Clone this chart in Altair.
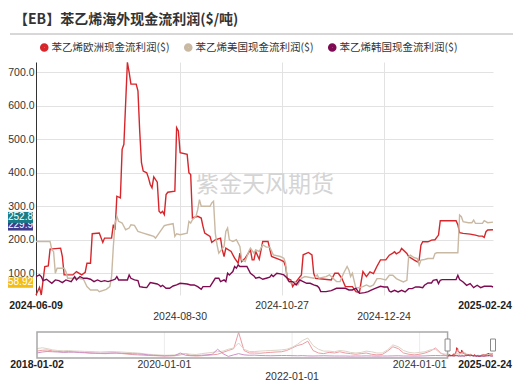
import altair as alt
import pandas as pd

# ---------------- data ----------------
START = pd.Timestamp("2024-06-09")
SERIES = ["苯乙烯欧洲现金流利润($)", "苯乙烯美国现金流利润($)", "苯乙烯韩国现金流利润($)"]
COLORS = ["#d7262b", "#c9b9a3", "#7e0b52"]
HIST_COLORS = ["#ee9ba3", "#ddd3c6", "#cc93c6"]

# days since 2024-06-09 / values
eu_day = [0, 2, 3, 5, 7, 8, 14, 15, 16, 21, 23, 26, 28, 29, 31, 32, 36, 38, 39, 43, 44, 45, 46, 48, 49, 50, 52, 53, 54, 57,
          58, 59, 60, 61, 63, 64, 65, 66, 67, 69, 70, 71, 72, 73, 74, 75, 79, 80, 81, 82, 86, 87, 88, 89, 92, 94, 95, 96, 99, 100,
          102, 105, 106, 107, 108, 111, 113, 115, 116, 117, 119, 122, 123, 124, 125, 127, 129, 132, 134, 139, 141, 142, 143, 145,
          146, 148, 151, 152, 155, 157, 158, 159, 168, 170, 172, 174, 176, 180, 182, 184, 185, 186, 188, 190, 192, 194, 196, 199,
          201, 203, 204, 205, 207, 208, 211, 212, 215, 217, 218, 219, 220, 223, 225, 227, 228, 229, 230, 239, 240, 241, 243, 247,
          250, 252, 254, 255, 256, 257, 260]
eu_val = [35, 58, 35, 120, 122, 172, 175, 150, 95, 95, 105, 95, 103, 130, 130, 218, 220, 192, 205, 205, 245, 230, 330, 325, 470, 485, 730, 700, 665, 665,
          645, 525, 430, 405, 400, 385, 365, 355, 388, 372, 285, 280, 285, 275, 335, 342, 345, 535, 525, 460, 455, 400, 395, 265, 270, 265, 240, 220, 210, 192,
          200, 205, 170, 150, 175, 165, 145, 130, 160, 135, 145, 170, 140, 140, 165, 142, 195, 195, 150, 140, 135, 120, 85, 80,
          60, 75, 95, 155, 162, 155, 100, 85, 80, 100, 100, 85, 60, 60, 45, 42, 75, 105, 90, 104, 99, 121, 140, 140,
          154, 160, 164, 158, 164, 174, 159, 150, 140, 134, 140, 184, 194, 194, 199, 200, 207, 214, 257, 257, 245, 221, 219, 217,
          214, 211, 211, 207, 224, 229, 229.9]

us_day = [0, 8, 9, 10, 11, 12, 16, 17, 18, 24, 27, 29, 31, 35, 36, 40, 42, 43, 44, 45, 46, 47, 49, 51, 53, 54, 56, 58, 61, 64,
          67, 68, 70, 73, 75, 78, 79, 80, 82, 86, 87, 88, 89, 91, 92, 93, 94, 99, 100, 101, 102, 103, 104, 107, 108, 109, 110, 112,
          114, 116, 117, 119, 121, 122, 124, 125, 127, 129, 131, 133, 135, 139, 141, 142, 143, 145, 147, 149, 151, 153, 158, 160,
          161, 165, 167, 169, 171, 173, 175, 177, 178, 179, 180, 182, 186, 188, 190, 192, 194, 196, 199, 201, 203, 205, 207, 209,
          211, 212, 213, 215, 217, 218, 219, 221, 223, 226, 227, 228, 240, 241, 242, 243, 246, 248, 249, 250, 254, 255, 257, 260]
us_val = [195, 195, 170, 165, 100, 115, 115, 105, 85, 85, 82, 60, 50, 50, 45, 52, 60, 90, 180, 250, 270, 255, 250, 230, 235, 245, 243, 225, 220, 215,
          210, 205, 220, 242, 245, 248, 210, 218, 215, 220, 255, 250, 260, 270, 290, 320, 300, 300, 310, 315, 220, 185, 160, 180, 225, 235, 200, 195,
          200, 180, 140, 135, 165, 175, 160, 170, 165, 185, 178, 178, 155, 150, 145, 130, 80, 70, 75, 65, 85, 90, 85, 95,
          85, 90, 95, 85, 75, 75, 100, 120, 110, 90, 100, 55, 60, 65, 60, 65, 84, 84, 80, 94, 94, 84, 79, 74,
          79, 149, 154, 147, 144, 124, 139, 141, 144, 144, 159, 161, 161, 274, 269, 254, 251, 251, 259, 249, 249, 257, 251, 252.8]

kr_day = [0, 2, 3, 4, 6, 9, 11, 13, 15, 17, 20, 22, 23, 25, 27, 29, 31, 33, 35, 37, 39, 41, 44, 45, 46, 47, 49, 52, 53, 54,
          56, 58, 59, 61, 63, 65, 67, 69, 70, 71, 72, 74, 76, 78, 80, 82, 86, 88, 90, 92, 94, 95, 99, 102, 104, 105, 107, 108, 109,
          110, 111, 112, 113, 114, 115, 116, 120, 122, 124, 125, 127, 129, 131, 133, 134, 135, 137, 139, 141, 143, 144, 146, 148,
          150, 152, 154, 156, 158, 160, 161, 162, 165, 168, 171, 173, 176, 178, 180, 182, 184, 187, 189, 191, 193, 196, 198, 200,
          201, 202, 204, 206, 208, 210, 212, 214, 216, 218, 220, 221, 223, 225, 226, 228, 229, 230, 231, 239, 240, 241, 243, 245,
          247, 249, 251, 253, 255, 257, 259, 260]
kr_val = [90, 95, 90, 78, 82, 70, 80, 78, 72, 80, 75, 90, 80, 90, 85, 85, 82, 75, 80, 75, 78, 75, 80, 82, 90, 80, 80, 80, 95, 85,
          80, 78, 60, 58, 57, 72, 70, 68, 65, 60, 64, 55, 55, 62, 65, 70, 68, 65, 65, 60, 52, 60, 60, 85, 85, 75, 80, 75, 100,
          95, 100, 105, 120, 115, 125, 120, 120, 100, 92, 85, 88, 82, 85, 88, 95, 90, 100, 98, 95, 85, 75, 75, 65,
          80, 75, 70, 70, 65, 62, 57, 45, 45, 48, 55, 55, 55, 50, 50, 55, 40, 42, 45, 50, 55, 61, 59, 59,
          47, 44, 49, 44, 49, 44, 54, 54, 59, 59, 57, 64, 71, 71, 79, 81, 69, 79, 81, 81, 94, 81, 74, 64,
          69, 57, 64, 57, 61, 61, 61, 58.92]

# monthly history 2018-01 .. 2024-05 (navigator)
eu_hist = [450, 520, 540, 470, 430, 400, 420, 400, 380, 350, 300, 280,
           260, 250, 280, 300, 260, 220, 180, 150, 130, 100, 90, 80,
           60, 70, 80, 150, 250, 100, 60, 80, 120, 150, 200, 350,
           500, 650, 1950, 500, 300, 300, 280, 320, 350, 380, 400, 500,
           700, 900, 1000, 1250, 500, 300, 250, 350, 300, 400, 300, 250,
           200, 250, 300, 200, 150, 180, 450, 800, 650, 300, 200, 150,
           200, 300, 450, 700, 300]
us_hist = [650, 720, 650, 550, 500, 480, 500, 460, 450, 430, 420, 400,
           380, 400, 420, 400, 380, 350, 330, 300, 250, 200, 180, 150,
           120, 130, 150, 200, 250, 200, 180, 250, 300, 350, 400, 450,
           600, 700, 1100, 600, 420, 420, 450, 480, 500, 520, 550, 600,
           750, 1000, 1300, 1500, 900, 600, 450, 450, 400, 500, 450, 350,
           300, 350, 450, 400, 300, 300, 550, 950, 800, 500, 350, 300,
           350, 400, 550, 600, 250]
kr_hist = [300, 380, 420, 400, 380, 350, 360, 370, 340, 320, 300, 290,
           280, 290, 300, 300, 280, 260, 240, 230, 200, 150, 110, 90,
           80, 90, 100, 300, 120, 80, 100, 120, 150, 200, 600, 250,
           30, 150, 250, 150, 120, 130, 100, 90, 80, 90, 100, 100,
           90, 80, 90, 70, 60, 70, 80, 70, 60, 60, 60, 50,
           60, 60, 70, 60, 50, 60, 60, 70, 80, 60, 60, 50,
           60, 70, 90, 100, 90]

TITLE = "【EB】苯乙烯海外现金流利润($/吨)"
WATERMARK = "紫金天风期货"
y_ticks = [100, 200, 300, 400, 500, 600, 700]
main_grid = ["2024-08-30", "2024-10-27", "2024-12-24"]
main_row1 = ["2024-10-27"]
main_row2 = ["2024-08-30", "2024-12-24"]
main_first, main_last = "2024-06-09", "2025-02-24"
nav_first, nav_last = "2018-01-02", "2025-02-24"
nav_row1 = ["2020-01-01", "2024-01-01"]
nav_row2 = ["2022-01-01"]
nav_grid = ["2020-01-01", "2022-01-01", "2024-01-01"]
flag_labels = ["229.9", "252.8", "58.92"]
flag_values = [229.9, 252.8, 58.92]
flag_colors = ["#3f3b8f", "#177c88", "#f4bd16"]

# ---------------- tables ----------------
def to_dates(days):
    return [(START + pd.Timedelta(days=d)).strftime("%Y-%m-%d") for d in days]

rows = []
for name, days, vals in zip(SERIES, [eu_day, us_day, kr_day], [eu_val, us_val, kr_val]):
    for d, v in zip(to_dates(days), vals):
        rows.append({"date": d, "value": v, "series": name, "key": name})
main_df = pd.DataFrame(rows)

months = pd.date_range("2018-01-01", "2024-05-01", freq="MS").strftime("%Y-%m-%d").tolist()
hrows = []
for name, vals, first in zip(SERIES, [eu_hist, us_hist, kr_hist], [eu_val[0], us_val[0], kr_val[0]]):
    for d, v in zip(months + ["2024-06-09"], vals + [first]):
        hrows.append({"date": d, "value": v, "key": "h_" + name})
hist_df = pd.DataFrame(hrows)

# ---------------- geometry ----------------
W, H = 457, 233
NUM_FONT = "Liberation Sans"
CJK_FONT = "Noto Sans CJK SC"


def dt(s):
    y, m, d = (int(p) for p in s.split("-"))
    return alt.DateTime(year=y, month=m, date=d, utc=True)


xs_main = alt.Scale(domain=[dt(main_first), dt(main_last)])
ys_main = alt.Scale(domain=[35, 731], nice=False, zero=False)
xs_nav = alt.Scale(domain=[dt(nav_first), dt(nav_last)], range=[1, W])
ys_nav = alt.Scale(domain=[-100, 1980], nice=False, zero=False, range=[296, 270])
stroke_scale = alt.Scale(domain=SERIES + ["h_" + s for s in SERIES], range=COLORS + HIST_COLORS)

layers = []

# watermark
layers.append(
    alt.Chart(pd.DataFrame({"t": [WATERMARK]})).mark_text(
        font=CJK_FONT, fontSize=23, color="#d4d4d4", align="center", baseline="middle"
    ).encode(x=alt.value(229), y=alt.value(123), text="t:N")
)

# main lines
layers.append(
    alt.Chart(main_df).mark_line(strokeWidth=1.4).encode(
        x=alt.X("date:T", scale=xs_main, title=None,
                axis=alt.Axis(values=[dt(s) for s in main_grid], labels=False, ticks=False,
                              domain=False, grid=True, gridColor="#e2e2e2")),
        y=alt.Y("value:Q", scale=ys_main, title=None,
                axis=alt.Axis(values=y_ticks, format=".1f", ticks=False, domain=True,
                              domainColor="#333333", labelFont=NUM_FONT, labelFontSize=10.5,
                              labelColor="#333333", labelPadding=2, grid=True, gridColor="#e2e2e2")),
        color=alt.Color("series:N", scale=alt.Scale(domain=SERIES, range=COLORS),
                        legend=alt.Legend(orient="none", legendX=3, legendY=-20, direction="horizontal",
                                          columns=3, title=None, symbolType="circle", symbolSize=16,
                                          symbolStrokeWidth=4.6, labelFont=CJK_FONT, labelFontSize=10.5,
                                          labelColor="#333333", labelOffset=2, columnPadding=7, padding=0)),
    )
)

# value flags on the y axis
for lab, v, c in zip(flag_labels, flag_values, flag_colors):
    fdf = pd.DataFrame({"label": [lab], "v": [v]})
    base = alt.Chart(fdf).transform_calculate(lo="datum.v - 2.4", hi="datum.v + 30.4", mid="datum.v + 14")
    layers.append(
        base.mark_rect(color=c).encode(
            y=alt.Y("lo:Q", scale=ys_main, axis=None), y2="hi:Q",
            x=alt.value(-28), x2=alt.value(-3))
    )
    layers.append(
        base.mark_text(color="white", font=NUM_FONT, fontSize=10, align="center", baseline="middle").encode(
            y=alt.Y("mid:Q", scale=ys_main, axis=None), x=alt.value(-15.5), text="label:N")
    )


def label_layer(dates, yrel, xscale, bold=False, dx=0):
    df = pd.DataFrame({"d": dates, "lab": list(dates)})
    return alt.Chart(df).mark_text(
        align="center", baseline="middle", dx=dx, font=NUM_FONT, fontSize=10.5,
        fontWeight="bold" if bold else "normal", color="#222222" if bold else "#333333"
    ).encode(x=alt.X("d:T", scale=xscale, axis=None), y=alt.value(yrel), text="lab:N")


layers += [
    label_layer([main_first], 244, xs_main, bold=True),
    label_layer([main_last], 244, xs_main, bold=True, dx=-8),
    label_layer(main_row1, 244, xs_main),
    label_layer(main_row2, 255, xs_main),
]

# navigator
layers.append(
    alt.Chart(pd.DataFrame({"d": nav_grid})).mark_rule(color="#ececec").encode(
        x=alt.X("d:T", scale=xs_nav, axis=None), y=alt.value(270), y2=alt.value(296))
)
layers.append(
    alt.Chart(hist_df).mark_line(strokeWidth=1).encode(
        x=alt.X("date:T", scale=xs_nav, axis=None),
        y=alt.Y("value:Q", scale=ys_nav, axis=None),
        stroke=alt.Stroke("key:N", scale=stroke_scale, legend=None))
)
layers.append(
    alt.Chart(main_df).mark_line(strokeWidth=1).encode(
        x=alt.X("date:T", scale=xs_nav, axis=None),
        y=alt.Y("value:Q", scale=ys_nav, axis=None),
        stroke=alt.Stroke("key:N", scale=stroke_scale, legend=None))
)
layers.append(
    alt.Chart(pd.DataFrame({"a": [nav_first], "b": [main_first]})).mark_rect(
        fill="white", fillOpacity=0, stroke="#a8a8a8", strokeWidth=1.5).encode(
        x=alt.X("a:T", scale=xs_nav, axis=None), x2="b:T", y=alt.value(270), y2=alt.value(296))
)
layers.append(
    alt.Chart(pd.DataFrame({"d": [main_first, main_last]})).mark_point(
        shape="M-1,-2.4L1,-2.4L1,2.4L-1,2.4Z", size=25, filled=True, fill="white",
        stroke="#8a8a8a", strokeWidth=1, opacity=1).encode(
        x=alt.X("d:T", scale=xs_nav, axis=None), y=alt.value(283))
)
layers += [
    label_layer([nav_first], 303, xs_nav, bold=True),
    label_layer([nav_last], 303, xs_nav, bold=True, dx=-8),
    label_layer(nav_row1, 303, xs_nav),
    label_layer(nav_row2, 315, xs_nav),
]

# title and separator
layers.append(
    alt.Chart(pd.DataFrame({"t": [TITLE]})).mark_text(
        font=CJK_FONT, fontSize=14, fontWeight="bold", color="#333333", align="left", baseline="middle"
    ).encode(x=alt.value(-22), y=alt.value(-42), text="t:N")
)
layers.append(
    alt.Chart(pd.DataFrame({"t": [0]})).mark_rule(color="#b0b0b0", strokeWidth=1).encode(
        x=alt.value(-26), x2=alt.value(477), y=alt.value(-28))
)

chart = alt.layer(*layers).resolve_scale(x="independent", y="independent").properties(
    width=W, height=H,
    autosize=alt.AutoSizeParams(type="none"),
    padding={"left": 28, "top": 54, "right": 31, "bottom": 91},
).configure_view(stroke="transparent")

chart.save("out.html", embed_options={"renderer": "svg", "actions": False})
